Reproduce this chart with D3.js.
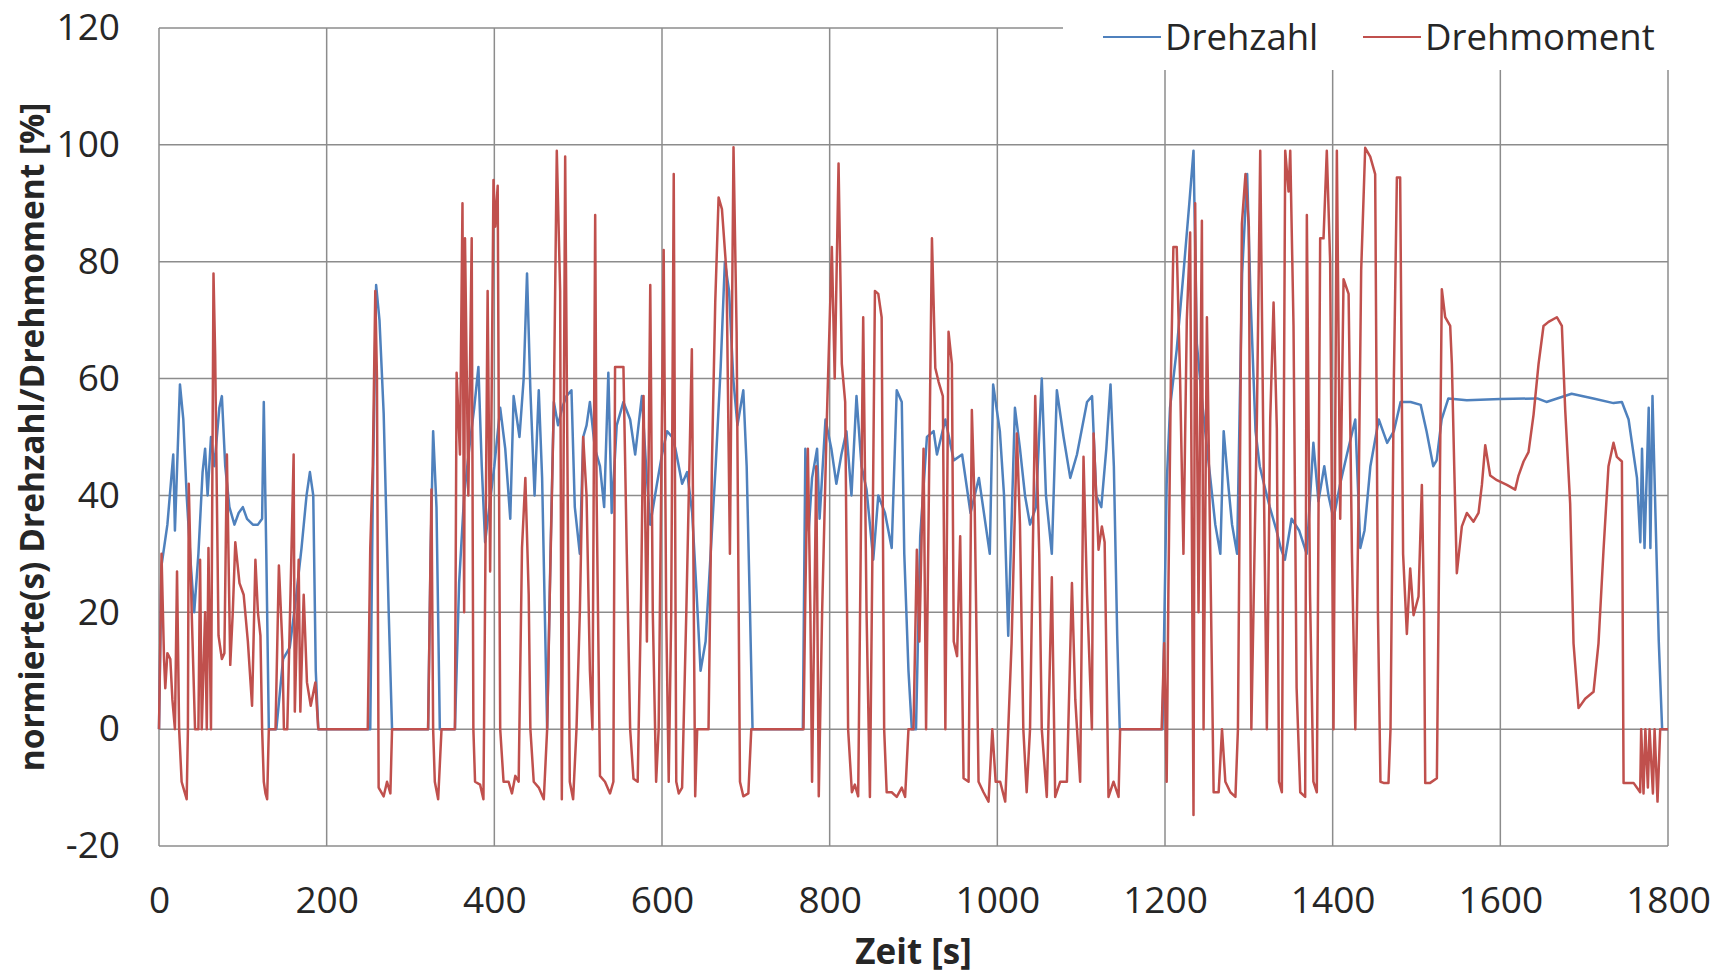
<!DOCTYPE html>
<html>
<head>
<meta charset="utf-8">
<script src="https://cdn.jsdelivr.net/npm/d3@7"></script>
<style>
  body { margin: 0; background: #fff; }
  svg text { font-family: "Open Sans", sans-serif; fill: #262626; }
</style>
</head>
<body>
<div id="chart"></div>
<script>
// time axis [s] and normalised value [%]
var xTicks = [0, 200, 400, 600, 800, 1000, 1200, 1400, 1600, 1800];
var yTicks = [-20, 0, 20, 40, 60, 80, 100, 120];
var seriesNames = ["Drehzahl", "Drehmoment"];

// Drehzahl, [t, %]
var drehzahl = [
  [0,0],[3,28],[10,35],[17,47],[19,34],[25,59],[29,53],[33,40],[38,28],[42,20],[47,30],[52,44],[55,48],[58,40],
  [62,50],[66,45],[72,55],[75,57],[79,45],[84,38],[90,35],[95,37],[100,38],[105,36],[112,35],[118,35],[123,36],
  [125,56],[128,30],[131,0],[140,0],[148,12],[156,14],[163,22],[170,31],[176,40],[180,44],[184,40],[187,10],[190,0],
  [252,0],[255,40],[259,76],[263,70],[268,54],[274,20],[278,0],
  [321,0],[324,30],[327,51],[331,38],[335,0],
  [353,0],[358,25],[364,40],[370,48],[376,55],[381,62],[385,45],[389,32],[394,38],[400,45],[407,55],[413,48],
  [419,36],[423,57],[430,50],[435,60],[439,78],[443,58],[448,40],[453,58],[457,43],[463,0],[467,30],[471,56],
  [476,52],[481,55],[486,57],[492,58],[496,38],[502,30],[506,50],[510,52],[514,56],[520,48],[526,45],[531,38],
  [536,61],[540,37],[546,52],[554,56],[562,53],[568,47],[576,57],[581,45],[586,35],[594,42],[600,47],[606,51],
  [612,50],[616,48],[624,42],[630,44],[636,37],[641,24],[646,10],[652,15],[658,30],[664,45],[670,62],[675,80],
  [680,75],[685,60],[690,52],[697,58],[701,45],[705,20],[708,0],
  [768,0],[771,48],[775,34],[779,43],[785,48],[788,36],[795,53],[802,48],[808,42],[814,47],[820,51],[826,40],
  [832,57],[838,45],[844,41],[852,29],[858,40],[866,37],[874,31],[880,58],[886,56],[889,30],[894,10],[898,0],
  [903,0],[908,33],[916,50],[924,51],[928,47],[938,53],[948,46],[958,47],[968,37],[978,43],[991,30],[995,59],
  [1003,51],[1008,40],[1013,16],[1021,55],[1027,48],[1033,40],[1039,35],[1046,38],[1053,60],[1058,40],[1065,30],
  [1071,58],[1079,50],[1087,43],[1095,47],[1103,53],[1107,56],[1113,57],[1118,40],[1124,38],[1130,48],[1135,59],
  [1139,45],[1143,16],[1146,0],
  [1197,0],[1202,42],[1206,55],[1214,65],[1222,78],[1229,90],[1234,99],[1238,66],[1245,55],[1254,43],[1260,35],
  [1266,30],[1270,51],[1276,41],[1280,35],[1286,30],[1292,78],[1298,95],[1302,74],[1308,51],[1313,45],[1318,42],
  [1325,38],[1333,34],[1338,31],[1343,29],[1351,36],[1360,34],[1369,30],[1377,49],[1383,39],[1390,45],[1395,40],
  [1401,36],[1409,42],[1417,47],[1427,53],[1433,31],[1438,34],[1445,45],[1455,53],[1465,49],[1473,51],[1481,56],
  [1493,56],[1505,55.5],[1512,51],[1520,45],[1524,46],[1530,53],[1538,56.6],[1560,56.3],[1600,56.5],[1644,56.6],
  [1655,56],[1685,57.4],[1711,56.6],[1735,55.8],[1745,56],[1753,53],[1763,43],[1767,32],[1769,48],[1772,31],
  [1777,55],[1779,31],[1781.5,57],[1785,37],[1789,15],[1793,0],[1800,0]
];

// Drehmoment, [t, %]
var drehmoment = [
  [0,0],[3,30],[6,12],[7.5,7],[10,13],[13.5,12],[16,5],[19,0],[21.5,27],[24,0],[27,-9],[29,-10],[33,-12],[34.5,0],
  [35.5,42],[39,20],[43,0],[47,0],[49,29],[51,0],[55,20],[57,0],[59,31],[62,0],[65,78],[67,64],[69,40],[71,16],
  [75,12],[78,13],[81,47],[85,11],[88,20],[91,32],[96,25],[101,23],[106,15],[111,4],[115,29],[118,20],[121,16],
  [123,0],[125,-9],[127,-11],[129,-12],[131,0],[139,0],[143,28],[147,15],[149,0],[153,0],[157,24],[160.6,47],
  [162,3],[166.6,29],[168.6,3],[172.6,23],[176.5,8],[181,4],[186.5,8],[190,0],
  [249,0],[252,31],[255,45],[258,75],[260,60],[262,-10],[268,-11.5],[272,-9],[276,-11],[278,0],
  [321,0],[325,41],[327,0],[329,-9],[333,-12],[337,0],
  [353,0],[355,61],[359,47],[362,90],[364,20],[365,84],[369,40],[373,84],[375,0],[377,-9],[383,-9.5],[387,-12],
  [389,23],[392,75],[395,27],[399,94],[401,86],[404,93],[407,0],[411,-9],[417,-9],[421,-11],[425,-8],[429,-9],
  [433,31],[437,43],[441,23],[443,0],[447,-9],[453,-10],[459,-12],[463,0],[466,22],[471,56],[474.5,99],[478.5,75],
  [480.5,-12],[484.5,98],[487,50],[490,-9],[494,-12],[498,0],[502,20],[506,50],[510,40],[514,10],[517,0],
  [520.3,88],[522,40],[526,-8],[532,-9],[538,-11],[542,-9],[544,62],[550,62],[554,62],[558,30],[562,0],
  [566,-8.5],[571,-9],[575,22],[578,57],[582,15],[586,76],[589,20],[593,-9],[596,0],[602,82],[605,20],[608,-9],
  [611,20],[614,95],[617,-9],[620,-11],[624,-10],[629,20],[635.6,65],[639.6,-11.5],[642,0],[655.5,0],[659.5,45],
  [663.5,73],[667.5,91],[671.5,89],[677,78],[681,30],[685.3,99.6],[689,68],[693,-9],[697,-11.5],[703,-11],[706.5,0],
  [768.8,0],[771,23],[774,48],[777,20],[779,-9],[782,23],[784,45],[787,-11.5],[791,20],[796.6,53],[802.6,82.5],
  [806,60],[810.6,96.8],[814.5,62.5],[818.5,56],[822,0],[826.5,-10.8],[830,-9.5],[834,-11.5],[837,30],[840,70.5],
  [844,20],[848,-11.6],[851,30],[854,75],[858,74.5],[862,70.5],[865,0],[868,-10.8],[874,-10.8],[880,-11.6],
  [886,-10],[890,-11.6],[894,0],[900,0],[904,30.7],[907,15],[912,48],[915,0],[922,84],[926,61.8],[930,59.4],
  [935,57],[938,0],[941.8,68],[945.8,62.5],[948,15],[952,12.5],[955.7,33],[959.7,-8.4],[965.7,-9],[969.6,54.6],
  [973,38],[977.6,-9],[983.5,-10.8],[989.5,-12.4],[994,0],[998,-9],[1003.4,-9],[1009.4,-12.4],[1013,0],
  [1017,14.7],[1023.3,50.6],[1027,35],[1031,0],[1035,-10.8],[1039,0],[1045.2,57],[1050,30],[1053,0],[1059,-11.6],
  [1065,26],[1069,-11.6],[1075,-9],[1083,-9],[1089,25],[1093,5],[1098.8,-9],[1102.8,46.6],[1107,23],[1112.8,0],
  [1114.8,50.6],[1120.7,30.7],[1124.7,34.7],[1128,32],[1132.6,-11.6],[1138.6,-9],[1144.6,-11.6],[1146.5,0],
  [1196,0],[1199,14.7],[1202,-9],[1204,23],[1207,60],[1210,82.5],[1214,82.5],[1218,60],[1222,30],[1226,70],
  [1230,85],[1234,-14.7],[1236,90],[1240,20],[1244,87],[1246,0],[1250,70.5],[1254,30],[1258,-10.8],[1264,-10.8],
  [1268,0],[1272,-9],[1278,-10.8],[1284,-11.6],[1287,0],[1291.7,86.5],[1296,95],[1300,86],[1303,0],[1309.6,53],
  [1313.6,99],[1317,53],[1321.5,0],[1325.5,53],[1329.5,73],[1333.4,51.4],[1336,-9],[1339.4,-10.8],[1343.4,99],
  [1347.4,92],[1349.4,99],[1353.3,69],[1357,7],[1361.3,-10.8],[1367.2,-11.6],[1369.2,88],[1373,23],[1377,-9],
  [1381.1,-10.8],[1385.1,84],[1389.1,84],[1393,99],[1397,80],[1401,0],[1405,99],[1409,36],[1413,77],[1419,74.5],
  [1423,30],[1427,0],[1431,40],[1434,78.5],[1438.8,99.5],[1444.8,98],[1450.7,95],[1454,20],[1457,-9],[1460.7,-9.2],
  [1466.6,-9.2],[1469,0],[1473,60],[1476.6,94.4],[1480.5,94.4],[1484,30],[1488.5,16.3],[1492.5,27.5],[1496.5,19.5],
  [1502.4,22.7],[1506.4,41.8],[1509,20],[1510.4,-9.2],[1516.3,-9.2],[1524.3,-8.4],[1527,30],[1530.2,75.3],
  [1534.2,70.5],[1540.2,69],[1542.2,62.5],[1545,45],[1548.1,26.7],[1554.1,34.7],[1560.1,37],[1568,35.5],[1574,37],
  [1578,41.8],[1582,48.6],[1587.9,43.4],[1595.9,42.6],[1607.8,41.8],[1617.7,41],[1621.7,43.4],[1627.7,45.8],
  [1633.6,47.4],[1639.6,53.8],[1645.6,62.5],[1651.5,69],[1657.5,69.7],[1667.4,70.5],[1673.4,69],[1677.4,54.6],
  [1683.3,38.6],[1687.3,14.7],[1693.3,3.6],[1701.2,5.2],[1711.2,6.4],[1717.1,14.7],[1723.1,30.7],[1729,45],
  [1735,49],[1739,46.6],[1745,45.8],[1747,-9.2],[1758.9,-9.2],[1766.8,-10.8],[1768,0],[1770.8,-11],[1773,0],
  [1776,-10],[1778,0],[1782,-11],[1784,0],[1787.5,-12.4],[1790.7,0],[1800,0]
];

var width = 1717, height = 976;
var colors = ["#4f81bd", "#c0504d"];

var svg = d3.select("#chart").append("svg").attr("width", width).attr("height", height);

var x = d3.scaleLinear().domain([0, 1800]).range([159, 1668]);
var y = d3.scaleLinear().domain([-20, 120]).range([846, 28]);

// grid
var grid = svg.append("g").attr("class", "grid").style("stroke", "#8c8c8c").style("stroke-width", 1.5);
grid.selectAll("line.h").data(yTicks).enter().append("line").attr("class", "h")
  .attr("x1", x(0)).attr("x2", x(1800)).attr("y1", function(d) { return y(d); }).attr("y2", function(d) { return y(d); });
grid.selectAll("line.v").data(xTicks).enter().append("line").attr("class", "v")
  .attr("x1", function(d) { return x(d); }).attr("x2", function(d) { return x(d); }).attr("y1", y(-20)).attr("y2", y(120));

// series, torque drawn last like the original
var line = d3.line().x(function(d) { return x(d[0]); }).y(function(d) { return y(d[1]); });
[drehzahl, drehmoment].forEach(function(s, i) {
  svg.append("path").datum(s).attr("d", line)
    .style("fill", "none").style("stroke", colors[i]).style("stroke-width", 2.5).style("stroke-linejoin", "round");
});

// axes (labels only); plain hyphen for the minus like the original
var fmt = function(d) { return String(d); };
var xAxis = svg.append("g").attr("transform", "translate(0," + (y(-20) + 38) + ")")
  .call(d3.axisBottom(x).tickValues(xTicks).tickSize(0).tickFormat(fmt));
var yAxis = svg.append("g").attr("transform", "translate(" + (x(0) - 36) + ",0)")
  .call(d3.axisLeft(y).tickValues(yTicks).tickSize(0).tickFormat(fmt));
[xAxis, yAxis].forEach(function(a) {
  a.select(".domain").remove();
  a.selectAll("text").style("font-size", "37px").style("font-family", "'Open Sans', sans-serif").style("fill", "#262626");
});
xAxis.selectAll("text").attr("dy", "0.71em");

// axis titles
svg.append("text").attr("x", x(900)).attr("y", 964).attr("text-anchor", "middle")
  .style("font-size", "35px").style("font-weight", "bold").text("Zeit [s]");
svg.append("text").attr("transform", "translate(44," + y(50) + ") rotate(-90)").attr("text-anchor", "middle")
  .style("font-size", "33.5px").style("font-weight", "bold").text("normierte(s) Drehzahl/Drehmoment [%]");

// legend, sits on a white box over the top right of the plot
var legend = svg.append("g");
legend.append("rect").attr("x", 1063).attr("y", 0).attr("width", width - 1063).attr("height", 70).style("fill", "#fff");
var legendX = [1103, 1363];
seriesNames.forEach(function(name, i) {
  legend.append("line").attr("x1", legendX[i]).attr("x2", legendX[i] + 58).attr("y1", 37).attr("y2", 37)
    .style("stroke", colors[i]).style("stroke-width", 2);
  legend.append("text").attr("x", legendX[i] + 62).attr("y", 50).style("font-size", "36.5px").text(name);
});
</script>
</body>
</html>
